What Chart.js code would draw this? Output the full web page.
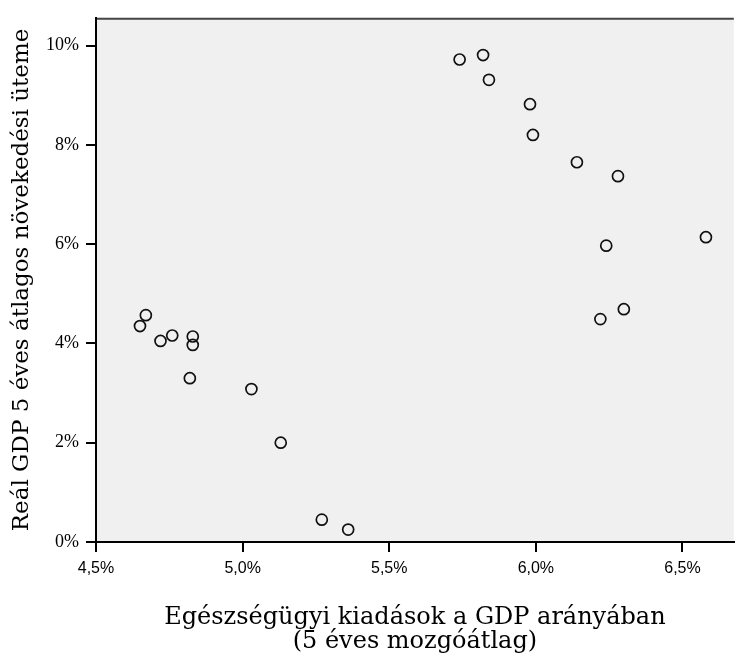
<!DOCTYPE html>
<html>
<head>
<meta charset="utf-8">
<script src="https://cdn.jsdelivr.net/npm/chart.js@4.4.1/dist/chart.umd.min.js"></script>
<style>
  html, body { margin: 0; padding: 0; background: #fff; }
  canvas { display: block; }
</style>
</head>
<body>
<canvas id="scatterChart" width="741" height="655"></canvas>
<script>
// Health spending as share of GDP, 5-year moving average (%)
const healthSpend = [5.74, 5.82, 5.84, 5.98, 5.99, 6.14, 6.28, 6.24, 6.58, 6.30, 6.22,
                     4.67, 4.65, 4.72, 4.76, 4.83, 4.83, 4.82, 5.03, 5.13, 5.27, 5.36];
// Real GDP 5-year average growth (%)
const gdpGrowth = [9.72, 9.81, 9.31, 8.82, 8.20, 7.65, 7.37, 5.97, 6.14, 4.69, 4.49,
                   4.57, 4.35, 4.05, 4.16, 4.14, 3.97, 3.30, 3.08, 2.00, 0.45, 0.25];

const xTicks = [4.5, 5.0, 5.5, 6.0, 6.5];
const yTicks = [0, 2, 4, 6, 8, 10];

// grey plot background + top frame line
const plotFrame = {
  id: 'plotFrame',
  beforeDraw(chart) {
    const { ctx, chartArea: a } = chart;
    ctx.save();
    ctx.fillStyle = '#f0f0f0';
    ctx.fillRect(a.left, a.top, a.right - a.left, a.bottom - a.top);
    ctx.strokeStyle = '#454545';
    ctx.lineWidth = 2;
    ctx.beginPath();
    ctx.moveTo(a.left, a.top + 1);
    ctx.lineTo(a.right, a.top + 1);
    ctx.stroke();
    ctx.restore();
  }
};

window.addEventListener('DOMContentLoaded', () => {
  const ctx = document.getElementById('scatterChart').getContext('2d');
  new Chart(ctx, {
    type: 'scatter',
    data: {
      datasets: [{
        data: healthSpend.map((x, i) => ({ x, y: gdpGrowth[i] })),
        pointStyle: 'circle',
        pointRadius: 5.5,
        pointBorderWidth: 1.7,
        borderColor: '#111',
        backgroundColor: 'rgba(0,0,0,0)',
      }],
    },
    options: {
      responsive: false,
      animation: false,
      layout: { padding: { top: 14, right: 0, bottom: 0, left: 0 } },
      plugins: {
        legend: { display: false },
        tooltip: { enabled: false },
      },
      scales: {
        x: {
          type: 'linear',
          position: 'bottom',
          min: 4.5,
          max: 6.675,
          afterBuildTicks: s => { s.ticks = xTicks.map(v => ({ value: v })); },
          afterFit: s => { s.height = 113; },
          ticks: {
            callback: v => v.toFixed(1).replace('.', ',') + '%',
            font: { family: 'Liberation Sans', size: 16 },
            color: '#000',
            padding: 7,
            maxRotation: 0,
            autoSkip: false,
          },
          grid: { drawOnChartArea: false, drawTicks: true, tickLength: 10, tickColor: '#000', lineWidth: 2 },
          border: { display: true, color: '#000', width: 2 },
          title: {
            display: true,
            text: ['Egészségügyi kiadások a GDP arányában', '(5 éves mozgóátlag)'],
            font: { family: 'DejaVu Serif', size: 24, lineHeight: 1.0 },
            color: '#000',
            padding: { top: 0, bottom: 1 },
          },
        },
        y: {
          type: 'linear',
          min: 0,
          max: 10.56,
          afterBuildTicks: s => { s.ticks = yTicks.map(v => ({ value: v })); },
          afterFit: s => { s.width = 96; },
          ticks: {
            callback: v => v + '%',
            font: { family: 'Liberation Serif', size: 18 },
            color: '#000',
            padding: 7,
          },
          grid: { drawOnChartArea: false, drawTicks: true, tickLength: 10, tickColor: '#000', lineWidth: 2 },
          border: { display: true, color: '#000', width: 2 },
          title: {
            display: true,
            text: 'Reál GDP 5 éves átlagos növekedési üteme',
            font: { family: 'DejaVu Serif', size: 23, lineHeight: 1.1 },
            color: '#000',
            padding: { top: 9, bottom: 0 },
          },
        },
      },
    },
    plugins: [plotFrame],
  });
});
</script>
</body>
</html>
